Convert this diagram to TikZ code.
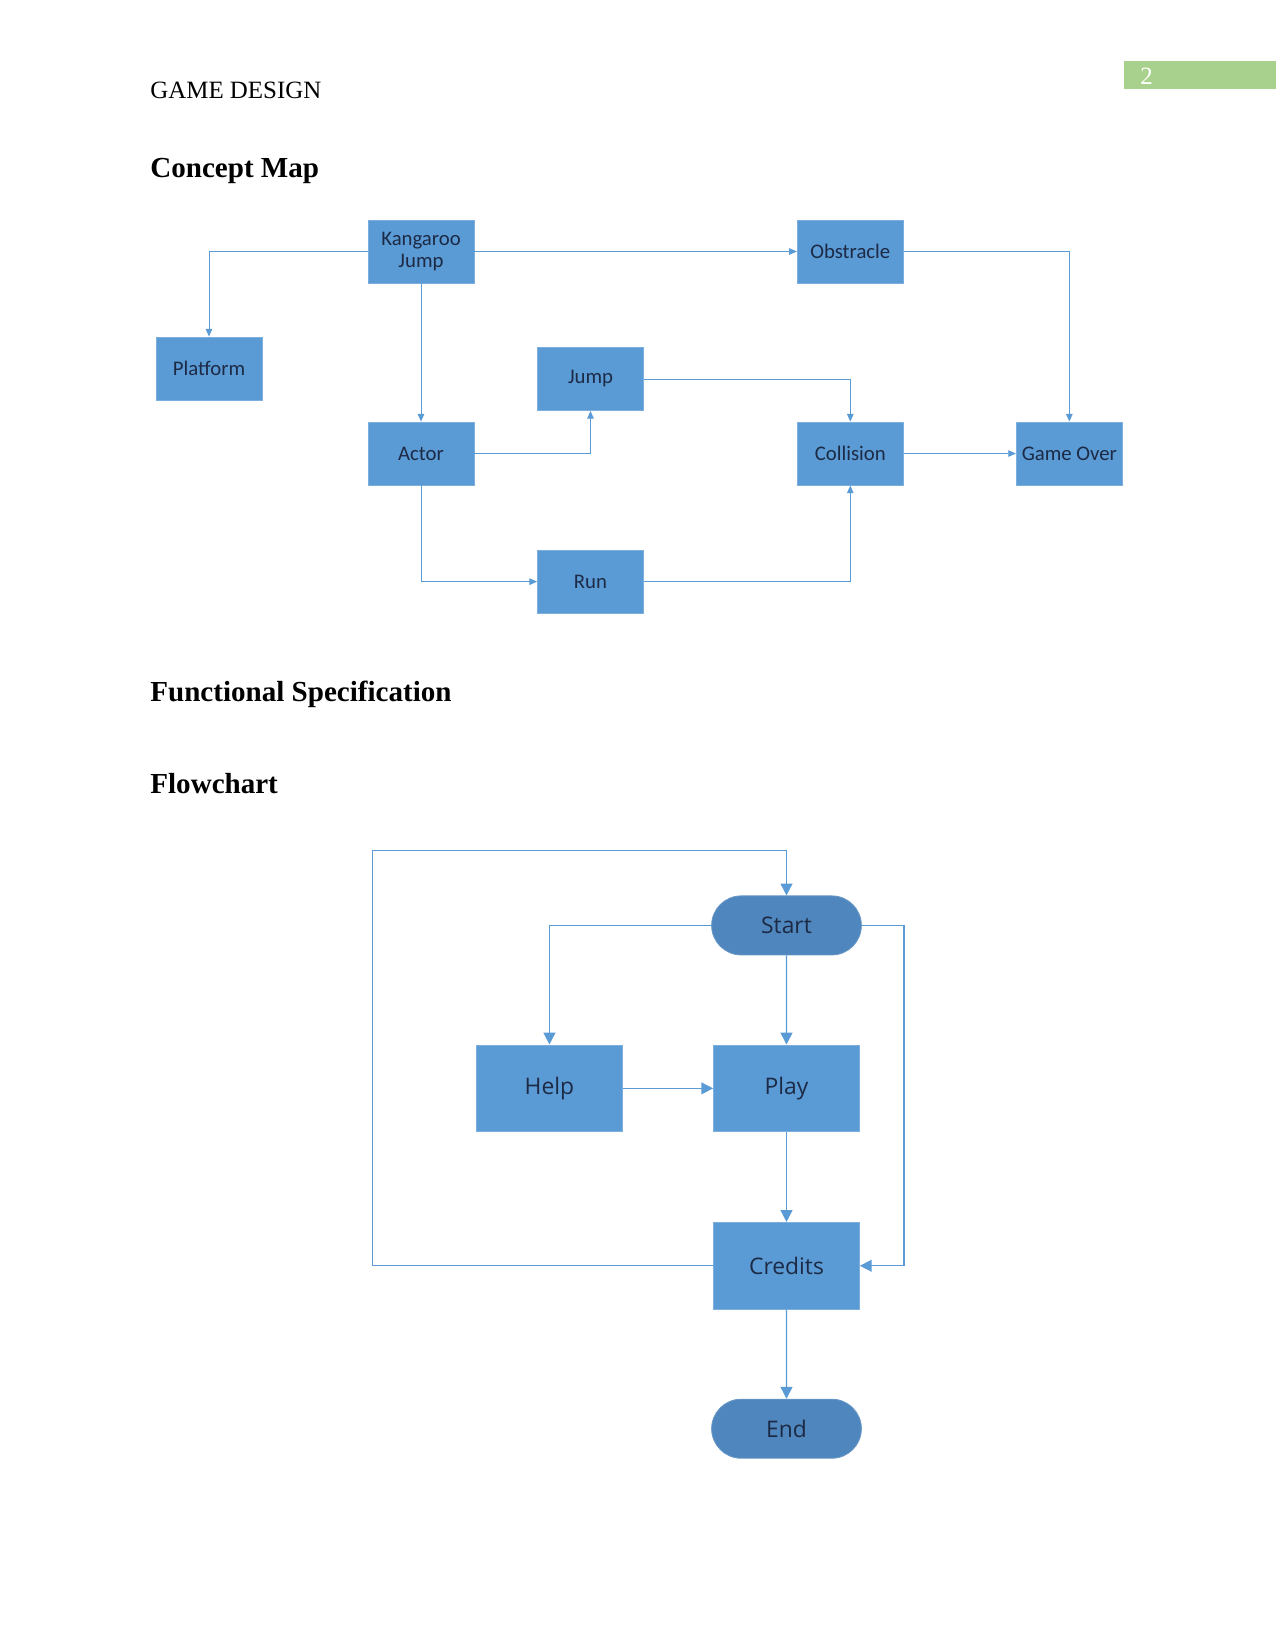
\documentclass[tikz,border=0pt]{standalone}
\usepackage{fontspec}
\setmainfont{Liberation Serif}
\newfontfamily\mapfont{Carlito}
\newfontfamily\flowfont{Open Sans}
\usetikzlibrary{arrows.meta,positioning,shapes.misc}
\definecolor{boxblue}{HTML}{5B9BD5}
\definecolor{boxedge}{HTML}{7DAFDE}
\definecolor{termblue}{HTML}{4F86BD}
\definecolor{linkblue}{HTML}{5B9BD5}
\definecolor{txt}{HTML}{1C2A45}
\definecolor{pagegreen}{HTML}{A9D18E}

\begin{document}
\begin{tikzpicture}[
  x=0.16933mm, y=-0.16933mm,
  concept/.style={rectangle, draw=boxedge, fill=boxblue, minimum width=17.95mm, minimum height=10.67mm, text=txt, align=center, inner sep=1pt, font=\mapfont\fontsize{10}{11}\selectfont},
  flowbox/.style={rectangle, draw=boxedge, fill=boxblue, minimum width=24.7mm, minimum height=14.7mm, text=txt, font=\flowfont\fontsize{11}{13}\selectfont},
  terminal/.style={rounded rectangle, draw=termblue!85!white, fill=termblue, minimum width=27.7mm, minimum height=10mm, text=txt, font=\flowfont\fontsize{11}{13}\selectfont},
  link/.style={-{Triangle[length=1.3mm,width=1.1mm]}, draw=linkblue, line width=0.45pt},
  flink/.style={-{Triangle[length=2mm,width=2mm]}, draw=linkblue, line width=0.7pt},
  heading/.style={anchor=base west, inner sep=0pt, font=\bfseries\fontsize{14}{16}\selectfont},
]
\fill[white] (0,0) rectangle (1275,1651);
\useasboundingbox (0,0) rectangle (1275,1651);

% page header
\node[anchor=base west, inner sep=0pt, font=\fontsize{12}{14}\selectfont] (runhead) at (150,98) {GAME DESIGN};
\node[fill=pagegreen, minimum width=25.6mm, minimum height=4.6mm, inner sep=0pt, anchor=north west] (pagebar) at (1124,61) {};
\node[anchor=base west, inner sep=0pt, text=white, font=\fontsize{12}{14}\selectfont] (pagenum) at (1140,84) {2};

\node[heading] (hconcept) at (150,177) {Concept Map};
\node[heading] (hspec) at (150,701) {Functional Specification};
\node[heading] (hflow) at (150,793) {Flowchart};

% concept map
\node[concept] (kj) at (421,251.5) {Kangaroo\\Jump};
\node[concept, right=5.46cm of kj] (obstacle) {Obstracle};
\node[concept] (platform) at (209,368.5) {Platform};
\node[concept, below=2.34cm of kj] (actor) {Actor};
\node[concept] (jump) at (590.5,379) {Jump};
\node[concept, below=2.35cm of jump] (run) {Run};
\node[concept, below=2.34cm of obstacle] (collision) {Collision};
\node[concept, right=1.9cm of collision] (gameover) {Game Over};

\draw[link] (kj.west) -| (platform.north);
\draw[link] (kj) -- (obstacle);
\draw[link] (kj) -- (actor);
\draw[link] (obstacle.east) -| (gameover.north);
\draw[link] (jump.east) -| (collision.north);
\draw[link] (actor.east) -| (jump.south);
\draw[link] (collision) -- (gameover);
\draw[link] (actor.south) |- (run.west);
\draw[link] (run.east) -| (collision.south);

% flowchart
\node[terminal] (start) at (786.5,925.4) {Start};
\node[flowbox, below=15.1mm of start] (play) {Play};
\node[flowbox, left=15.3mm of play] (help) {Help};
\node[flowbox, below=15.2mm of play] (credits) {Credits};
\node[terminal, below=15.1mm of credits] (end) {End};
\coordinate (loopl) at (372.7,850.7);
\coordinate (loopr) at (904,925.4);

\draw[flink] (start.west) -| (help.north);
\draw[flink] (start) -- (play);
\draw[flink] (start.east) -- (loopr) |- (credits.east);
\draw[flink] (help) -- (play);
\draw[flink] (play) -- (credits);
\draw[flink] (credits.west) -| (loopl) -| (start.north);
\draw[flink] (credits) -- (end);

\end{tikzpicture}
\end{document}
